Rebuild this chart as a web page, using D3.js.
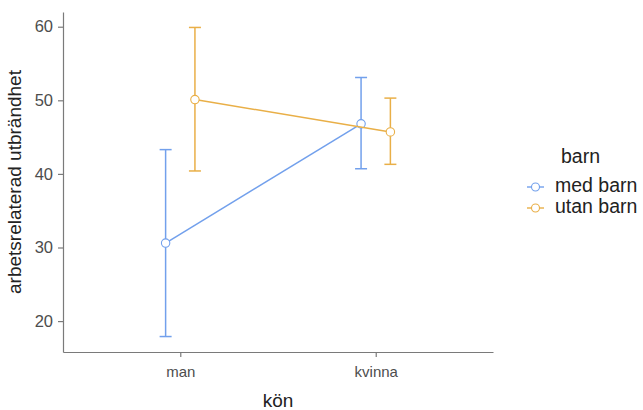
<!DOCTYPE html>
<html>
<head>
<meta charset="utf-8">
<script src="https://cdn.jsdelivr.net/npm/d3@7"></script>
<style>
  body { margin: 0; background: #fff; }
  text { font-family: "Liberation Sans", Arial, sans-serif; }
</style>
</head>
<body>
<svg id="chart" width="643" height="410"></svg>
<script>
// gender categories on x, child groups as series
const categories = ["man", "kvinna"];
const groups = ["med barn", "utan barn"];
const colors = ["#72a0ec", "#e9af47"];

// mean and CI bounds, per group, ordered like categories
const meanMed = [30.6, 46.8];
const lowMed = [17.9, 40.7];
const highMed = [43.3, 53.1];
const meanUtan = [50.1, 45.7];
const lowUtan = [40.4, 41.3];
const highUtan = [59.9, 50.3];

const yTicks = [20, 30, 40, 50, 60];

const series = [
    { name: groups[0], mean: meanMed, low: lowMed, high: highMed, color: colors[0] },
    { name: groups[1], mean: meanUtan, low: lowUtan, high: highUtan, color: colors[1] }
];

const svg = d3.select('#chart');
const margin = { left: 63, right: 150, top: 12, bottom: 58 };
const W = 643, H = 410;

// ggplot-like 5% expansion of data range
const allVals = series.flatMap(s => s.low.concat(s.high));
const yMin = d3.min(allVals), yMax = d3.max(allVals);
const pad = (yMax - yMin) * 0.05;
const y = d3.scaleLinear()
    .domain([yMin - pad, yMax + pad])
    .range([H - margin.bottom, margin.top]);

// discrete axis: positions 1..n with 0.6 expansion
const xLin = d3.scaleLinear()
    .domain([0.4, categories.length + 0.6])
    .range([margin.left, W - margin.right]);
const dodge = 0.075;

const axisColor = '#7a7a7a';
const textColor = '#4d4d4d';

// axes
const yAxis = svg.append('g')
    .attr('transform', `translate(${margin.left},0)`)
    .call(d3.axisLeft(y).tickValues(yTicks).tickSize(5).tickSizeOuter(0).tickPadding(5));
const xAxis = svg.append('g')
    .attr('transform', `translate(0,${H - margin.bottom})`)
    .call(d3.axisBottom(xLin).tickValues(categories.map((c, i) => i + 1))
        .tickFormat(d => categories[d - 1]).tickSize(5).tickSizeOuter(0));

[yAxis, xAxis].forEach(ax => {
    ax.select('.domain').attr('stroke', axisColor).attr('stroke-width', 1.2);
    ax.selectAll('.tick line').attr('stroke', axisColor).attr('stroke-width', 1.2);
});
yAxis.selectAll('.tick text').attr('fill', textColor).style('font-size', '16.5px');
xAxis.selectAll('.tick text')
    .attr('fill', textColor)
    .attr('dy', '0')
    .attr('y', 25)
    .style('font-size', '15px');

// axis titles
svg.append('text')
    .attr('x', (margin.left + W - margin.right) / 2)
    .attr('y', 407)
    .attr('text-anchor', 'middle')
    .attr('fill', '#222')
    .style('font-size', '19px')
    .text('kön');
svg.append('text')
    .attr('transform', `translate(21,${(margin.top + H - margin.bottom) / 2}) rotate(-90)`)
    .attr('text-anchor', 'middle')
    .attr('fill', '#222')
    .style('font-size', '19px')
    .text('arbetsrelaterad utbrändhet');

// data marks
const capW = 6;
series.forEach((s, si) => {
    const off = si === 0 ? -dodge : dodge;
    const pts = categories.map((c, i) => ({
        x: xLin(i + 1 + off),
        mean: s.mean[i], low: s.low[i], high: s.high[i]
    }));
    const g = svg.append('g');
    const line = d3.line().x(d => d.x).y(d => y(d.mean));
    g.append('path')
        .datum(pts)
        .attr('d', line)
        .attr('fill', 'none')
        .attr('stroke', s.color)
        .attr('stroke-width', 1.5);
    const eb = g.selectAll('g.eb').data(pts).join('g')
        .attr('stroke', s.color)
        .attr('stroke-width', 1.5);
    eb.append('line')
        .attr('x1', d => d.x).attr('x2', d => d.x)
        .attr('y1', d => y(d.low)).attr('y2', d => y(d.high));
    eb.append('line')
        .attr('x1', d => d.x - capW).attr('x2', d => d.x + capW)
        .attr('y1', d => y(d.low)).attr('y2', d => y(d.low));
    eb.append('line')
        .attr('x1', d => d.x - capW).attr('x2', d => d.x + capW)
        .attr('y1', d => y(d.high)).attr('y2', d => y(d.high));
    g.selectAll('circle').data(pts).join('circle')
        .attr('cx', d => d.x)
        .attr('cy', d => y(d.mean))
        .attr('r', 4.2)
        .attr('fill', '#fff')
        .attr('stroke', s.color)
        .attr('stroke-width', 1.1);
});

// legend
const legend = svg.append('g').attr('transform', 'translate(527,0)');
legend.append('text')
    .attr('x', 34)
    .attr('y', 163)
    .attr('fill', '#222')
    .style('font-size', '19.5px')
    .text('barn');
const items = legend.selectAll('g.item').data(series).join('g')
    .attr('transform', (d, i) => `translate(0,${187 + i * 21})`);
items.append('line')
    .attr('x1', 0).attr('x2', 17)
    .attr('stroke', d => d.color).attr('stroke-width', 1.4);
items.append('circle')
    .attr('cx', 8.5).attr('r', 4)
    .attr('fill', '#fff')
    .attr('stroke', d => d.color).attr('stroke-width', 1.1);
items.append('text')
    .attr('x', 28)
    .attr('dominant-baseline', 'middle')
    .attr('fill', '#222')
    .style('font-size', '19.5px')
    .text(d => d.name);
</script>
</body>
</html>
